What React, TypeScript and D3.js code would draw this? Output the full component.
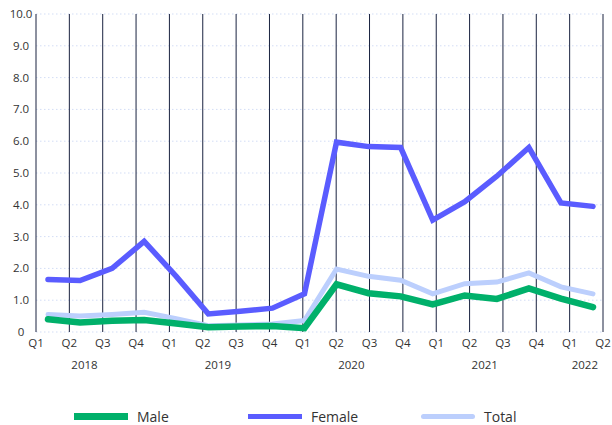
import * as d3 from "d3";
import React, { useEffect, useRef } from "react";

const quarterLabels = ["Q1", "Q2", "Q3", "Q4", "Q1", "Q2", "Q3", "Q4", "Q1", "Q2", "Q3", "Q4", "Q1", "Q2", "Q3", "Q4", "Q1", "Q2"];
const quarterYears = ["2018", "2018", "2018", "2018", "2019", "2019", "2019", "2019", "2020", "2020", "2020", "2020", "2021", "2021", "2021", "2021", "2022", "2022"];
const yearLabels = ["2018", "2019", "2020", "2021", "2022"];
const yTicks = [0, 1, 2, 3, 4, 5, 6, 7, 8, 9, 10];

const femaleValues = [1.65, 1.62, 2.0, 2.85, 1.75, 0.57, 0.65, 0.75, 1.2, 5.97, 5.83, 5.8, 3.52, 4.1, 4.9, 5.8, 4.06, 3.95];
const maleValues = [0.4, 0.3, 0.35, 0.38, 0.27, 0.15, 0.17, 0.19, 0.12, 1.5, 1.22, 1.12, 0.87, 1.15, 1.04, 1.37, 1.05, 0.78];
const totalValues = [0.55, 0.5, 0.55, 0.62, 0.42, 0.2, 0.22, 0.25, 0.36, 1.98, 1.75, 1.63, 1.2, 1.52, 1.57, 1.86, 1.42, 1.2];

const series = [
  { name: "Total", values: totalValues, color: "#bccffd", width: 5 },
  { name: "Female", values: femaleValues, color: "#5a5cff", width: 5.5 },
  { name: "Male", values: maleValues, color: "#00b06a", width: 6.5 },
];

const legendItems = [
  { name: "Male", color: "#00b06a", h: 7, x: 74, round: false },
  { name: "Female", color: "#5a5cff", h: 5, x: 248, round: false },
  { name: "Total", color: "#bccffd", h: 5, x: 421, round: true },
];

const FONT = "'Open Sans', Lato, sans-serif";

export default function App() {
  const ref = useRef<SVGSVGElement | null>(null);

  useEffect(() => {
    const svg = d3.select(ref.current);
    svg.selectAll("*").remove();

    const idx = quarterLabels.map((_, i) => i);

    // tick positions and data positions are offset from each other
    const xTick = d3.scalePoint<number>().domain(idx).range([36, 603]);
    const xData = d3.scalePoint<number>().domain(idx).range([48, 593]);
    const y = d3.scaleLinear().domain([0, 10]).range([332, 14]);

    // horizontal dotted gridlines
    svg.append("g")
      .selectAll("line")
      .data(yTicks)
      .join("line")
      .attr("x1", 36)
      .attr("x2", 603)
      .attr("y1", d => y(d))
      .attr("y2", d => y(d))
      .attr("stroke", "#d3ddf5")
      .attr("stroke-width", 1)
      .attr("stroke-dasharray", "1.5,2.5");

    // vertical dark lines
    svg.append("g")
      .selectAll("line")
      .data(idx)
      .join("line")
      .attr("x1", d => xTick(d)!)
      .attr("x2", d => xTick(d)!)
      .attr("y1", y(10))
      .attr("y2", y(0))
      .attr("stroke", "#1a2340")
      .attr("stroke-width", 1);

    // y labels
    svg.append("g")
      .selectAll("text")
      .data(yTicks)
      .join("text")
      .attr("x", 21)
      .attr("y", d => y(d) + 4)
      .attr("text-anchor", "middle")
      .attr("font-family", FONT)
      .attr("font-size", 11.5)
      .attr("fill", "#333")
      .text(d => (d === 0 ? "0" : d.toFixed(1)));

    // quarter labels
    svg.append("g")
      .selectAll("text")
      .data(idx)
      .join("text")
      .attr("x", d => xTick(d)!)
      .attr("y", 347)
      .attr("text-anchor", "middle")
      .attr("font-family", FONT)
      .attr("font-size", 11.5)
      .attr("fill", "#333")
      .text(d => quarterLabels[d]);

    // year labels centred under their quarters
    svg.append("g")
      .selectAll("text")
      .data(yearLabels)
      .join("text")
      .attr("x", yr => d3.mean(idx.filter(i => quarterYears[i] === yr), i => xTick(i)!)! - 1.5)
      .attr("y", 369)
      .attr("text-anchor", "middle")
      .attr("font-family", FONT)
      .attr("font-size", 11.5)
      .attr("fill", "#333")
      .text(d => d);

    const line = d3.line<number>()
      .x((_, i) => xData(i)!)
      .y(d => y(d));

    series.forEach(s => {
      svg.append("path")
        .datum(s.values)
        .attr("fill", "none")
        .attr("stroke", s.color)
        .attr("stroke-width", s.width)
        .attr("stroke-linejoin", "miter")
        .attr("stroke-linecap", "round")
        .attr("d", line);
    });

    // legend
    const lg = svg.append("g");
    legendItems.forEach(it => {
      lg.append("rect")
        .attr("x", it.x)
        .attr("y", 416.5 - it.h / 2)
        .attr("width", 54)
        .attr("height", it.h)
        .attr("rx", it.round ? it.h / 2 : 0)
        .attr("fill", it.color);
      lg.append("text")
        .attr("x", it.x + 63)
        .attr("y", 421.5)
        .attr("font-family", FONT)
        .attr("font-size", 14)
        .attr("fill", "#333")
        .text(it.name);
    });
  }, []);

  return (
    <svg
      ref={ref}
      width={612}
      height={425}
      style={{ position: "absolute", left: 0, top: 0, display: "block", background: "#fff" }}
    />
  );
}
